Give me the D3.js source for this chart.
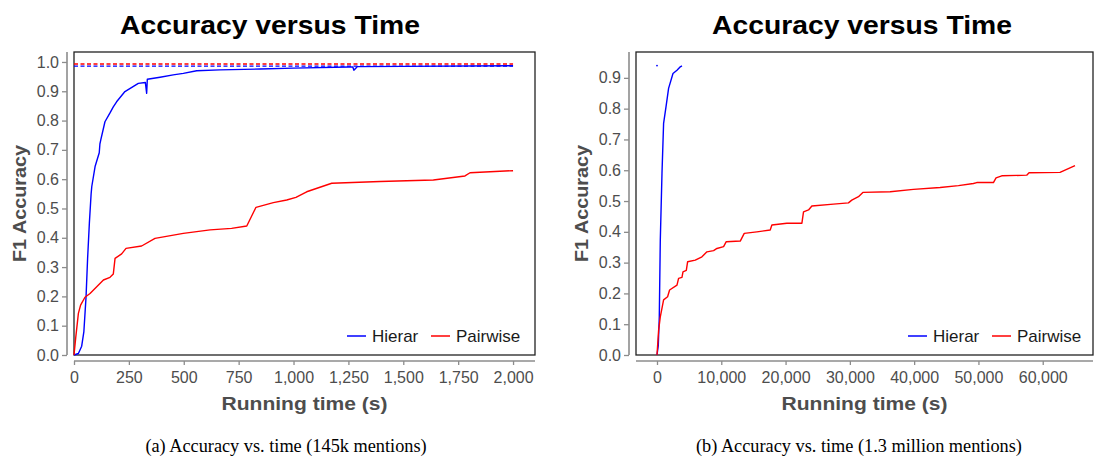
<!DOCTYPE html>
<html>
<head>
<meta charset="utf-8">
<script src="https://cdn.jsdelivr.net/npm/d3@7"></script>
<style>
  body { margin: 0; background: #fff; }
  svg { display: block; }
  .tick text { font-family: "Liberation Sans", Arial, sans-serif; }
</style>
</head>
<body>
<div id="chart"></div>
<script>

// ---- data ----
var leftHierT = [0, 20, 35, 45, 55, 62, 70, 78, 81, 96, 115, 118, 122, 141, 164, 179, 194, 232, 293, 325, 331, 334, 392, 452, 498, 559, 665, 847, 1000, 1250, 1270, 1275, 1290, 1500, 2000];
var leftHierA = [0, 0.005, 0.03, 0.08, 0.2, 0.33, 0.45, 0.55, 0.575, 0.643, 0.69, 0.72, 0.734, 0.796, 0.826, 0.847, 0.864, 0.899, 0.927, 0.93, 0.893, 0.941, 0.948, 0.956, 0.961, 0.97, 0.973, 0.976, 0.979, 0.983, 0.983, 0.972, 0.984, 0.985, 0.987];

var leftPairT = [0, 8, 20, 30, 50, 73, 134, 164, 179, 187, 217, 237, 308, 369, 498, 620, 718, 787, 829, 908, 969, 1011, 1060, 1174, 1394, 1637, 1781, 1804, 2000];
var leftPairA = [0, 0.06, 0.142, 0.17, 0.197, 0.21, 0.256, 0.265, 0.276, 0.33, 0.345, 0.364, 0.372, 0.398, 0.415, 0.427, 0.432, 0.44, 0.504, 0.52, 0.529, 0.538, 0.557, 0.586, 0.592, 0.597, 0.611, 0.622, 0.629];

// reference levels (dashed)
var leftRefT = [0, 2000];
var leftRefHier = 0.986;
var leftRefPair = 0.993;

var rightHierT = [0, 200, 357, 513, 777, 1026, 1400, 1803, 2487, 3109, 3622, 3886];
var rightHierA = [0, 0.03, 0.124, 0.373, 0.59, 0.752, 0.806, 0.866, 0.914, 0.925, 0.936, 0.939];
var rightHierDot = [0, 0.94];

var rightPairT = [0, 253, 513, 1026, 1648, 1959, 3109, 3358, 3886, 4041, 4559, 4767, 5954, 6991, 7769, 8805, 9323, 10358, 10773, 12950, 13570, 15540, 17610, 17870, 20200, 22540, 22790, 23570, 24090, 27450, 29780, 30300, 31340, 32020, 36270, 39890, 44040, 46890, 49220, 49740, 52330, 52740, 53630, 57510, 57870, 62690, 65020];
var rightPairA = [0, 0.081, 0.124, 0.179, 0.189, 0.211, 0.227, 0.249, 0.252, 0.27, 0.275, 0.303, 0.308, 0.319, 0.335, 0.339, 0.346, 0.352, 0.368, 0.37, 0.395, 0.4, 0.406, 0.422, 0.428, 0.428, 0.465, 0.471, 0.484, 0.49, 0.494, 0.503, 0.514, 0.528, 0.53, 0.538, 0.544, 0.55, 0.557, 0.56, 0.56, 0.575, 0.582, 0.584, 0.592, 0.593, 0.615];

var leftXTicks = [0, 250, 500, 750, 1000, 1250, 1500, 1750, 2000];
var leftYTicks = [0, 0.1, 0.2, 0.3, 0.4, 0.5, 0.6, 0.7, 0.8, 0.9, 1.0];
var rightXTicks = [0, 10000, 20000, 30000, 40000, 50000, 60000];
var rightYTicks = [0, 0.1, 0.2, 0.3, 0.4, 0.5, 0.6, 0.7, 0.8, 0.9];

var seriesNames = ["Hierar", "Pairwise"];
var seriesColors = ["#0000ff", "#ff0000"];

var title = "Accuracy versus Time";
var xTitle = "Running time (s)";
var yTitle = "F1 Accuracy";
var captions = ["(a) Accuracy vs. time (145k mentions)", "(b) Accuracy vs. time (1.3 million mentions)"];

var w = 1094;
var h = 460;
var sans = "'Liberation Sans', Arial, Helvetica, sans-serif";
var serif = "'Liberation Serif', 'Times New Roman', serif";

var svg = d3.select("#chart")
  .append("svg")
  .attr("width", w)
  .attr("height", h);

function zip(ts, vs) {
  return ts.map(function(t, i) { return [t, vs[i]]; });
}

function drawPanel(p) {
  var xScale = d3.scaleLinear().domain(p.xDomain).range([p.left, p.right]);
  var yScale = d3.scaleLinear().domain(p.yDomain).range([p.bottom, p.top]);

  var g = svg.append("g");

  // x axis (gray, offset below panel)
  var xAxis = d3.axisBottom(xScale)
    .tickValues(p.xTicks)
    .tickSize(4)
    .tickPadding(7)
    .tickFormat(d3.format(",d"));
  var gx = g.append("g")
    .attr("transform", "translate(0," + (p.bottom + 6) + ")")
    .call(xAxis);
  gx.select(".domain").attr("stroke", "#8c8c8c").attr("stroke-width", 1.6)
    .attr("d", "M" + p.left + ",0H" + p.right);
  gx.selectAll(".tick line").attr("stroke", "#8c8c8c").attr("stroke-width", 1.3);
  gx.selectAll(".tick text").attr("fill", "#4d4d4d").style("font-size", "16px");

  // y axis (gray, offset left of panel)
  var yAxis = d3.axisLeft(yScale)
    .tickValues(p.yTicks)
    .tickSize(5)
    .tickPadding(3)
    .tickFormat(d3.format(".1f"));
  var gy = g.append("g")
    .attr("transform", "translate(" + (p.left - 7) + ",0)")
    .call(yAxis);
  gy.select(".domain").attr("stroke", "#8c8c8c").attr("stroke-width", 1.6)
    .attr("d", "M0," + p.top + "V" + p.bottom);
  gy.selectAll(".tick line").attr("stroke", "#8c8c8c").attr("stroke-width", 1.3);
  gy.selectAll(".tick text").attr("fill", "#4d4d4d").style("font-size", "16px");

  // panel border
  g.append("rect")
    .attr("x", p.left)
    .attr("y", p.top)
    .attr("width", p.right - p.left)
    .attr("height", p.bottom - p.top)
    .attr("fill", "none")
    .attr("stroke", "#222")
    .attr("stroke-width", 1.3);

  var line = d3.line()
    .x(function(d) { return xScale(d[0]); })
    .y(function(d) { return yScale(d[1]); });

  // dashed reference lines
  (p.refs || []).forEach(function(r) {
    g.append("path")
      .datum(r.data)
      .attr("d", line)
      .attr("fill", "none")
      .attr("stroke", r.color)
      .attr("stroke-width", 1.3)
      .attr("stroke-dasharray", "4,2.5");
  });

  // series
  p.series.forEach(function(s) {
    g.append("path")
      .datum(s.data)
      .attr("d", line)
      .attr("fill", "none")
      .attr("stroke", s.color)
      .attr("stroke-width", 1.4)
      .attr("stroke-linejoin", "round");
  });

  (p.dots || []).forEach(function(dt) {
    g.append("circle")
      .attr("cx", xScale(dt.pos[0]))
      .attr("cy", yScale(dt.pos[1]))
      .attr("r", 0.9)
      .attr("fill", dt.color);
  });

  // legend
  var lg = g.append("g").attr("transform", "translate(" + p.legendX + "," + (p.bottom - 19) + ")");
  var offs = [0, 84];
  seriesNames.forEach(function(name, i) {
    lg.append("line")
      .attr("x1", offs[i]).attr("x2", offs[i] + 19)
      .attr("y1", 0).attr("y2", 0)
      .attr("stroke", seriesColors[i])
      .attr("stroke-width", 1.5);
    lg.append("text")
      .attr("x", offs[i] + 25)
      .attr("y", 6)
      .attr("font-family", sans)
      .attr("font-size", "17px")
      .attr("fill", "#1a1a1a")
      .text(name);
  });

  // titles
  g.append("text")
    .attr("x", p.titleX)
    .attr("y", 34)
    .attr("text-anchor", "middle")
    .attr("font-family", sans)
    .attr("font-weight", "bold")
    .attr("font-size", "26px")
    .attr("textLength", 300)
    .attr("lengthAdjust", "spacingAndGlyphs")
    .attr("fill", "#000")
    .text(title);

  g.append("text")
    .attr("x", (p.left + p.right) / 2)
    .attr("y", 410)
    .attr("text-anchor", "middle")
    .attr("font-family", sans)
    .attr("font-weight", "bold")
    .attr("font-size", "18px")
    .attr("textLength", 166)
    .attr("lengthAdjust", "spacingAndGlyphs")
    .attr("fill", "#4d4d4d")
    .text(xTitle);

  g.append("text")
    .attr("text-anchor", "middle")
    .attr("transform", "translate(" + p.yTitleX + "," + ((p.top + p.bottom) / 2) + ")rotate(-90)")
    .attr("font-family", sans)
    .attr("font-weight", "bold")
    .attr("font-size", "18px")
    .attr("textLength", 117)
    .attr("lengthAdjust", "spacingAndGlyphs")
    .attr("fill", "#4d4d4d")
    .text(yTitle);

  g.append("text")
    .attr("x", p.captionX)
    .attr("y", 452)
    .attr("text-anchor", "middle")
    .attr("font-family", serif)
    .attr("font-size", "18.3px")
    .attr("fill", "#000")
    .text(p.caption);
}

drawPanel({
  left: 74, right: 535, top: 52, bottom: 355,
  xDomain: [0, 2100], yDomain: [0, 1.034],
  xTicks: leftXTicks, yTicks: leftYTicks,
  series: [
    { data: zip(leftHierT, leftHierA), color: seriesColors[0] },
    { data: zip(leftPairT, leftPairA), color: seriesColors[1] }
  ],
  refs: [
    { data: zip(leftRefT, [leftRefPair, leftRefPair]), color: seriesColors[1] },
    { data: zip(leftRefT, [leftRefHier, leftRefHier]), color: seriesColors[0] }
  ],
  legendX: 347, titleX: 270, yTitleX: 26, captionX: 286,
  caption: captions[0]
});

drawPanel({
  left: 636, right: 1093, top: 52, bottom: 355,
  xDomain: [-3266, 67820], yDomain: [0, 0.984],
  xTicks: rightXTicks, yTicks: rightYTicks,
  series: [
    { data: zip(rightHierT, rightHierA), color: seriesColors[0] },
    { data: zip(rightPairT, rightPairA), color: seriesColors[1] }
  ],
  dots: [{ pos: rightHierDot, color: seriesColors[0] }],
  legendX: 908, titleX: 862, yTitleX: 588, captionX: 859,
  caption: captions[1]
});

</script>
</body>
</html>
